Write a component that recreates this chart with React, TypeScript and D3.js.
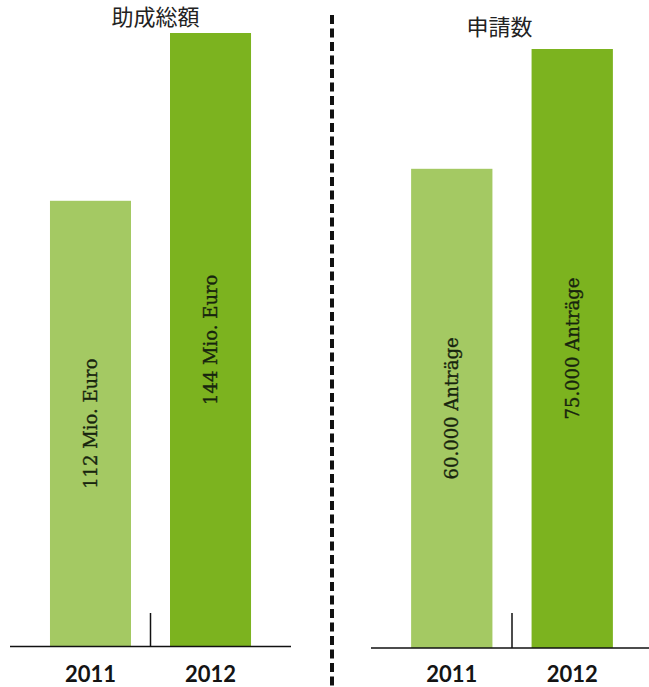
import React from "react";
import * as d3 from "d3";

const years = ["2011", "2012"];
const fundingValues = [112, 144];
const fundingLabels = ["112 Mio. Euro", "144 Mio. Euro"];
const applicationValues = [60000, 75000];
const applicationLabels = ["60.000 Anträge", "75.000 Anträge"];
const titles = ["助成総額", "申請数"];

const W = 649;
const H = 687;
const barColors = ["#a4c963", "#7cb31f"];

type PanelProps = {
  title: string;
  values: number[];
  labels: string[];
  x0: number;
  x1: number;
  baseline: number;
  top: number;
  domainMin: number;
  titleX: number;
  titleY: number;
};

function Panel({ title, values, labels, x0, x1, baseline, top, domainMin, titleX, titleY }: PanelProps) {
  const x = d3.scaleBand<string>().domain(years).range([x0, x1]).paddingInner(0.325).paddingOuter(0.333);
  const y = d3.scaleLinear().domain([domainMin, d3.max(values) as number]).range([baseline, top]);
  const bw = x.bandwidth();
  const tickX = (x(years[1]) as number) - (x.step() * 0.325) / 2;
  return (
    <g>
      <text x={titleX} y={titleY} textAnchor="middle" fontFamily="'Noto Sans CJK JP', sans-serif" fontSize={22} fill="#222">
        {title}
      </text>
      {values.map((v, i) => {
        const bx = x(years[i]) as number;
        const by = y(v);
        const cx = bx + bw / 2;
        const cy = (by + baseline) / 2;
        return (
          <g key={i}>
            <rect x={bx} y={by} width={bw} height={baseline - by} fill={barColors[i]} />
            <text
              transform={`translate(${cx},${cy}) rotate(-90)`}
              textAnchor="middle"
              dy="0.35em"
              fontFamily="'DejaVu Serif', serif"
              fontSize={18}
              fill="#17240e"
              stroke="#17240e"
              strokeWidth={0.35}
            >
              {labels[i]}
            </text>
            <text
              x={cx}
              y={682}
              textAnchor="middle"
              fontFamily="Lato, sans-serif"
              fontWeight={700}
              fontSize={22}
              fill="#141414"
            >
              {years[i]}
            </text>
          </g>
        );
      })}
      <line x1={x0} x2={x1} y1={baseline} y2={baseline} stroke="#111" strokeWidth={1.5} />
      <line x1={tickX} x2={tickX} y1={baseline} y2={613} stroke="#111" strokeWidth={1.5} />
    </g>
  );
}

export default function App() {
  return (
    <svg width={W} height={H} style={{ position: "absolute", left: 0, top: 0, background: "#fff" }}>
      <rect width={W} height={H} fill="#fff" />
      <Panel
        title={titles[0]}
        values={fundingValues}
        labels={fundingLabels}
        x0={10}
        x1={291}
        baseline={646.5}
        top={33}
        domainMin={27}
        titleX={155.5}
        titleY={25}
      />
      <Panel
        title={titles[1]}
        values={applicationValues}
        labels={applicationLabels}
        x0={371}
        x1={653}
        baseline={648}
        top={49}
        domainMin={0}
        titleX={499.5}
        titleY={35}
      />
      <line x1={332} x2={332} y1={15} y2={H} stroke="#111" strokeWidth={4} strokeDasharray="9 4.5" />
    </svg>
  );
}
